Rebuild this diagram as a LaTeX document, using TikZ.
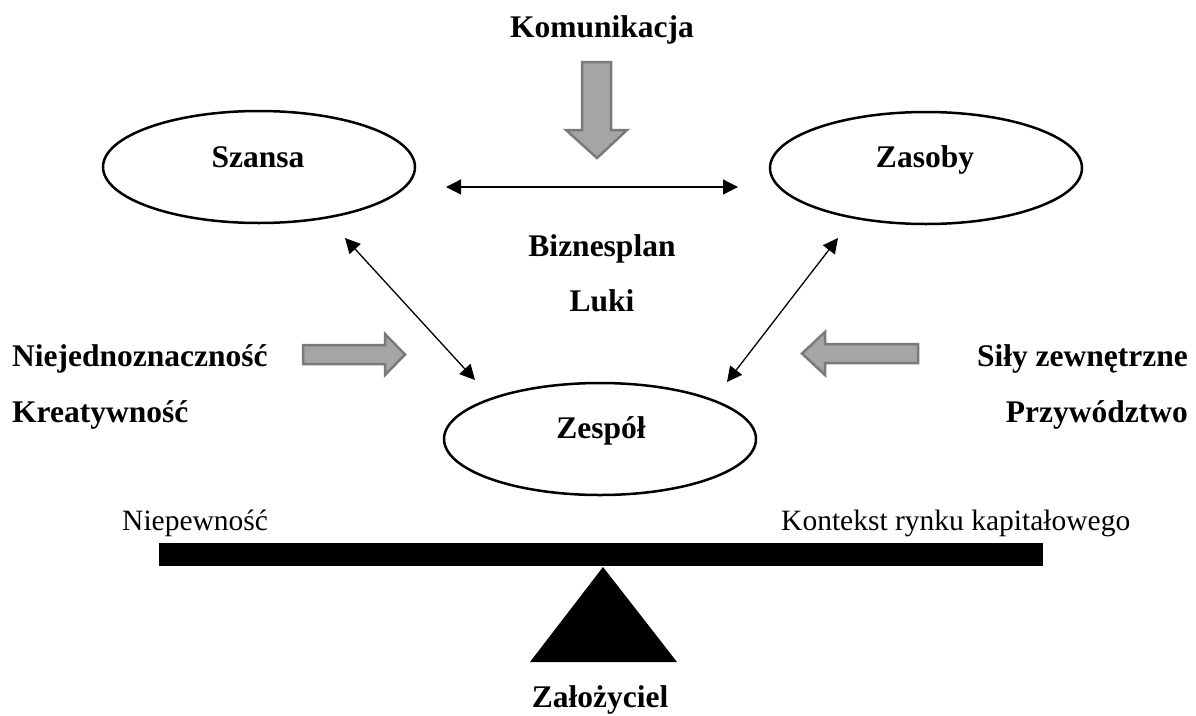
\documentclass[tikz,border=0pt]{standalone}
\usepackage{fontspec}
\setmainfont{Liberation Serif}
\usetikzlibrary{shapes.geometric,arrows.meta}
\definecolor{arrowgray}{HTML}{A5A5A5}
\definecolor{arrowedge}{HTML}{7A7A7A}
\tikzset{
  oval/.style={ellipse, draw, line width=2.5pt, minimum width=312pt, minimum height=112pt, inner sep=0pt},
  lbl/.style={font=\fontsize{31.5}{36}\selectfont\bfseries, inner sep=0pt, anchor=base},
  plaintext/.style={font=\fontsize{29.5}{36}\selectfont, inner sep=0pt, anchor=base},
  link/.style={{Triangle[length=15pt,width=15pt]}-{Triangle[length=15pt,width=15pt]}, line width=1.3pt},
  block/.style={fill=arrowgray, draw=arrowedge, line width=2.5pt, line join=miter},
  solidblack/.style={fill=black, draw=none}
}
\begin{document}
\begin{tikzpicture}[x=1pt,y=-1pt]
\useasboundingbox (0,0) rectangle (1196,715);
% ellipses
\node[oval] (szansa) at (259,167) {};
\node[oval] (zasoby) at (926,168) {};
\node[oval] (zespol) at (600,439) {};
\node[lbl] (tszansa) at (258,167) {Szansa};
\node[lbl] (tzasoby) at (925,167) {Zasoby};
\node[lbl] (tzespol) at (601,438) {Zespół};
% texts
\node[lbl] (komunikacja) at (602,37) {Komunikacja};
\node[lbl] (biznesplan) at (602,256) {Biznesplan};
\node[lbl] (luki) at (602,311) {Luki};
\node[lbl, anchor=base west] (niejedno) at (12,366) {Niejednoznaczność};
\node[lbl, anchor=base west] (kreat) at (12,422) {Kreatywność};
\node[lbl, anchor=base east] (sily) at (1188,366) {Siły zewnętrzne};
\node[lbl, anchor=base east] (przyw) at (1188,422) {Przywództwo};
\node[plaintext, anchor=base west] (niepew) at (122,530) {Niepewność};
\node[plaintext, anchor=base west] (kontekst) at (781,530) {Kontekst rynku kapitałowego};
\node[lbl] (zalozyciel) at (600,707) {Założyciel};
% connector end points
\coordinate (hL) at (446,187);
\coordinate (hR) at (738,187);
\coordinate (dL1) at (345,238);
\coordinate (dL2) at (475,380);
\coordinate (dR1) at (838,238);
\coordinate (dR2) at (727,382);
\draw[link] (hL) -- (hR);
\draw[link] (dL1) -- (dL2);
\draw[link] (dR1) -- (dR2);
% block arrows
\draw[block] (582,62) -- (611,62) -- (611,130) -- (627,130) -- (597,158) -- (566,130) -- (582,130) -- cycle;
\draw[block] (303,345) -- (385,345) -- (385,334) -- (405,354.5) -- (385,375) -- (385,364) -- (303,364) -- cycle;
\draw[block] (918,344) -- (825,344) -- (825,332) -- (802,353.5) -- (825,375) -- (825,363) -- (918,363) -- cycle;
% seesaw
\fill[solidblack] (159,543) rectangle (1043,566);
\fill[solidblack] (603,567) -- (677,662) -- (530,662) -- cycle;
\end{tikzpicture}
\end{document}
